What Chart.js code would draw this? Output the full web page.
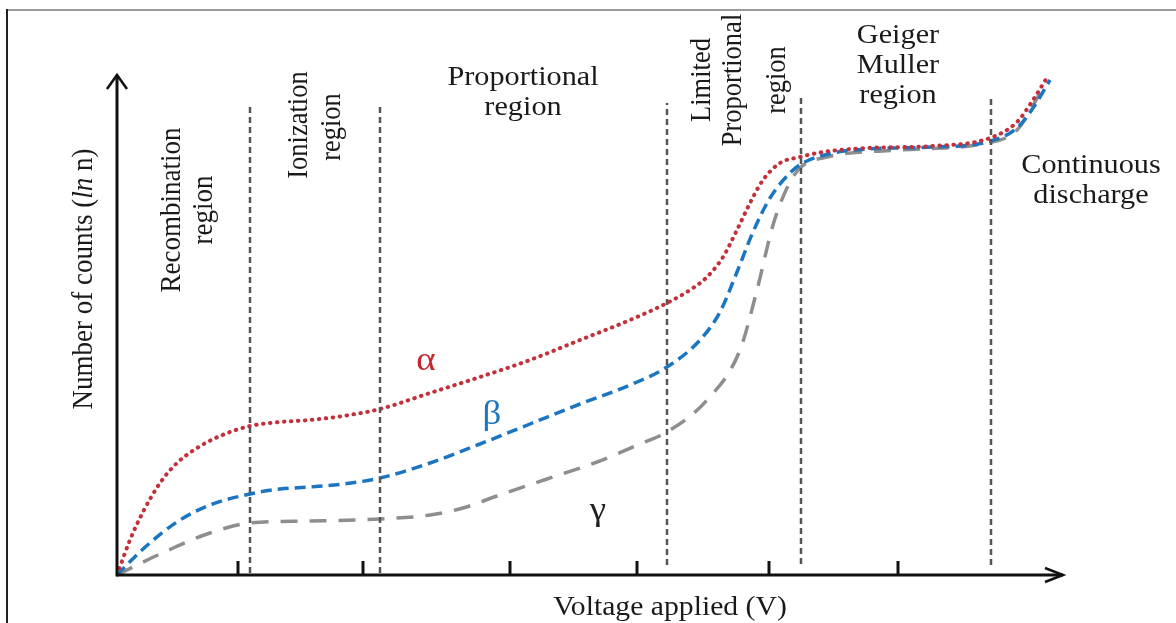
<!DOCTYPE html>
<html><head><meta charset="utf-8">
<script src="https://cdn.jsdelivr.net/npm/chart.js@4/dist/chart.umd.min.js"></script>
<style>html,body{margin:0;padding:0;background:#fff}#wrap{width:1176px;height:623px;position:relative}canvas{display:block}</style>
</head><body><div id="wrap"><canvas id="c" width="1176" height="623"></canvas></div>
<script>
// ---- data (abstract voltage / ln n units) ----
const X_MAX = 946, Y_MAX = 500;
const alphaX = [0,13,26,43,60,80,103,133,163,193,226,263,313,363,413,463,513,550,573,590,606,620,633,646,663,683,706,750,816,873,900,916,931];
const alphaY = [0,35,63,92,112,127,139,149,153,155,159,166,182,198,215,235,255,272,285,298,318,345,372,395,412,418,423,427,429,437,453,475,499];
const betaX  = [0,26,60,93,133,163,193,226,263,313,363,413,463,513,550,583,603,620,636,653,673,686,716,750,816,870,900,916,933];
const betaY  = [0,26,53,70,81,86,88,91,97,112,131,151,171,190,208,235,263,303,343,377,402,412,422,426,428,433,447,467,495];
const gammaX = [0,43,93,133,193,263,313,346,380,430,480,523,550,590,623,640,656,670,683,710,783,870,900,926];
const gammaY = [0,21,42,52,54,56,60,67,79,96,113,131,143,175,225,285,350,387,407,418,425,432,445,487];
const boundaryX = [133, 263, 550, 684, 874];
const boundaryBottom = [2, 2, 10, 11, 10];
const boundaryTop = [472, 472, 472, 478, 477];
const tickX = [121, 246, 393, 520, 652, 781];
const TICK_LEN = 14;

const pts = (xs, ys) => xs.map((x, i) => ({x, y: ys[i]}));

// ---- styles ----
const SX = 1.12;
const SERIF = '"Liberation Serif","Times New Roman",serif';

const datasets = [
  {label:'α', data:pts(alphaX, alphaY), borderColor:'#c4303a', borderWidth:4, borderDash:[0.5,6.5], borderCapStyle:'round', order:2},
  {label:'β', data:pts(betaX, betaY), borderColor:'#1b75c0', borderWidth:3.5, borderDash:[11,6], order:2},
  {label:'γ', data:pts(gammaX, gammaY), borderColor:'#8e8e8e', borderWidth:3.5, borderDash:[17,12], order:3}
];
boundaryX.forEach((bx, i) => datasets.push({
  label:'b'+i, data:[{x:bx, y:boundaryBottom[i]}, {x:bx, y:boundaryTop[i]}],
  borderColor:'#555', borderWidth:2.5, borderDash:[6,4], tension:0, cubicInterpolationMode:'default', order:1
}));

function txt(ctx, s, x, y, o) {
  ctx.save();
  ctx.translate(x, y);
  ctx.scale(SX, 1);
  if (o.rot) ctx.rotate(-Math.PI / 2);
  ctx.font = (o.style || '') + ' ' + o.size + 'px ' + SERIF;
  ctx.fillStyle = o.color || '#1a1a1a';
  ctx.textAlign = 'center';
  ctx.textBaseline = 'alphabetic';
  ctx.fillText(s, 0, 0);
  ctx.restore();
}

const labels = [
  {t:'Proportional', x:523, y:85, size:27},
  {t:'region', x:523, y:115, size:27},
  {t:'Geiger', x:898, y:43, size:27},
  {t:'Muller', x:898, y:73, size:27},
  {t:'region', x:898, y:103, size:27},
  {t:'Continuous', x:1091, y:173, size:27},
  {t:'discharge', x:1091, y:203, size:27},
  {t:'Voltage applied (V)', x:670, y:615, size:26.5},
  {t:'Recombination', x:180, y:210, size:27, rot:true},
  {t:'region', x:212, y:210, size:27, rot:true},
  {t:'Ionization', x:307, y:125, size:26.5, rot:true},
  {t:'region', x:340, y:127, size:26.5, rot:true},
  {t:'Limited', x:710, y:80, size:26.5, rot:true},
  {t:'Proportional', x:741, y:80, size:26.5, rot:true},
  {t:'region', x:785, y:80, size:26.5, rot:true},
  {t:'α', x:426, y:370, size:33, color:'#c4262e'},
  {t:'β', x:492, y:424, size:33, color:'#1b75c0'},
  {t:'γ', x:598, y:520, size:33, color:'#222'}
];

const deco = {
  id:'deco',
  afterDatasetsDraw(chart) {
    const ctx = chart.ctx, xs = chart.scales.x, ys = chart.scales.y;
    const x0 = xs.getPixelForValue(0), y0 = ys.getPixelForValue(0);
    const xe = xs.getPixelForValue(X_MAX), ye = ys.getPixelForValue(Y_MAX);
    ctx.save();
    ctx.strokeStyle = '#111'; ctx.lineWidth = 3; ctx.lineCap = 'butt'; ctx.setLineDash([]);
    ctx.beginPath(); ctx.moveTo(x0, y0); ctx.lineTo(xe, y0); ctx.stroke();
    ctx.beginPath(); ctx.moveTo(x0, y0 + 1.5); ctx.lineTo(x0, ye); ctx.stroke();
    ctx.lineWidth = 2.5; ctx.lineJoin = 'miter';
    ctx.beginPath(); ctx.moveTo(xe - 18, y0 - 7); ctx.lineTo(xe, y0); ctx.lineTo(xe - 18, y0 + 7); ctx.stroke();
    ctx.beginPath(); ctx.moveTo(x0 - 10, ye + 14); ctx.lineTo(x0, ye); ctx.lineTo(x0 + 10, ye + 14); ctx.stroke();
    ctx.lineWidth = 3;
    tickX.forEach(t => {
      const px = xs.getPixelForValue(t);
      ctx.beginPath(); ctx.moveTo(px, y0); ctx.lineTo(px, ys.getPixelForValue(TICK_LEN)); ctx.stroke();
    });
    ctx.restore();
  },
  afterDraw(chart) {
    const ctx = chart.ctx;
    ctx.save();
    ctx.strokeStyle = '#9a9a9a'; ctx.lineWidth = 2;
    ctx.beginPath(); ctx.moveTo(7, 10); ctx.lineTo(1176, 10); ctx.stroke();
    ctx.strokeStyle = '#222';
    ctx.beginPath(); ctx.moveTo(7, 9); ctx.lineTo(7, 623); ctx.stroke();
    ctx.restore();
    labels.forEach(l => txt(ctx, l.t, l.x, l.y, l));
    // y-axis title with italic "ln"
    const segs = [['Number of counts (', ''], ['ln', 'italic'], [' n)', '']];
    const size = 27;
    ctx.save();
    ctx.translate(92, 279); ctx.scale(SX, 1); ctx.rotate(-Math.PI / 2);
    ctx.fillStyle = '#1a1a1a'; ctx.textBaseline = 'alphabetic'; ctx.textAlign = 'left';
    let total = 0;
    segs.forEach(s => { ctx.font = s[1] + ' ' + size + 'px ' + SERIF; total += ctx.measureText(s[0]).width; });
    let cx = -total / 2;
    segs.forEach(s => { ctx.font = s[1] + ' ' + size + 'px ' + SERIF; ctx.fillText(s[0], cx, 0); cx += ctx.measureText(s[0]).width; });
    ctx.restore();
  }
};

new Chart(document.getElementById('c'), {
  type:'line',
  data:{datasets},
  options:{
    responsive:false, animation:false, devicePixelRatio:1,
    layout:{padding:{left:117, right:113, top:75, bottom:48}},
    elements:{point:{radius:0}, line:{fill:false, cubicInterpolationMode:'monotone'}},
    plugins:{legend:{display:false}, tooltip:{enabled:false}},
    scales:{
      x:{type:'linear', min:0, max:X_MAX, display:false},
      y:{type:'linear', min:0, max:Y_MAX, display:false}
    }
  },
  plugins:[deco]
});
</script>
</body></html>
